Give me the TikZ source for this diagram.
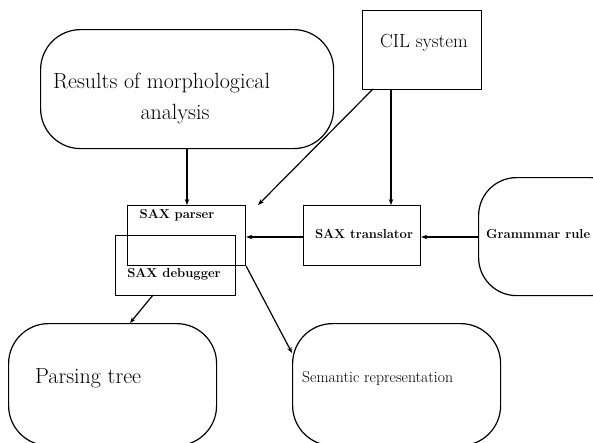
\documentclass[tikz,border=0pt]{standalone}
\usetikzlibrary{arrows.meta}
\begin{document}
\begin{tikzpicture}[x=1pt,y=-1pt,
  ln/.style={line width=1.2pt},
  arr/.style={ln,-{Stealth[length=6pt,width=4.5pt]}},
  rbox/.style={draw,ln,rounded corners=40pt,inner sep=0pt,anchor=north west},
  sbox/.style={draw,ln,inner sep=0pt,anchor=north west},
  txt/.style={inner sep=0pt,font=\fontsize{#1}{#1}\selectfont},
  stxt/.style={inner sep=0pt,font=\fontsize{13}{13}\selectfont\bfseries}]
\useasboundingbox (0,0) rectangle (593,442);
\clip (0,0) rectangle (593,442);
% shapes
\node[rbox,minimum width=293pt,minimum height=119pt] (res) at (40,29) {};
\node[txt=22,anchor=west] (res1) at (53,83) {Results of morphological};
\node[txt=22] (res2) at (175,114) {analysis};
\node[sbox,minimum width=119pt,minimum height=79pt] (cil) at (362,10) {};
\node[txt=19] (cilt) at (424,43) {CIL system};
\node[rbox,minimum width=150pt,minimum height=118pt,rounded corners=38pt] (gr) at (478,177) {};
\node[stxt,anchor=west] (grt) at (486,234) {Grammmar rule};
\node[sbox,minimum width=117pt,minimum height=60pt] (tr) at (303,205) {};
\node[stxt] (trt) at (364,234) {SAX translator};
\node[sbox,minimum width=118pt,minimum height=60pt] (pa) at (127,205) {};
\node[stxt] (pat) at (177,215) {SAX parser};
\node[sbox,minimum width=120pt,minimum height=60pt] (db) at (115,235) {};
\node[stxt] (dbt) at (174,274) {SAX debugger};
\node[rbox,minimum width=208pt,minimum height=122pt] (pt) at (8,323) {};
\node[txt=22,anchor=west] (ptt) at (35,378) {Parsing tree};
\node[rbox,minimum width=208pt,minimum height=122pt] (se) at (292,323) {};
\node[txt=15.7,anchor=west] (set) at (302,379) {Semantic representation};
% connectors
\coordinate (cilA) at (373,89);
\coordinate (cilB) at (391,89);
\coordinate (free) at (258,205);
\coordinate (dbB) at (153,295);
\coordinate (ptT) at (130,323);
\coordinate (seL) at (292,353);
\draw[arr] (res.south -| 187,0) -- (pa.north -| 187,0);
\draw[arr] (cilA) -- (free);
\draw[arr] (cilB) -- (cilB |- tr.north);
\draw[arr] (tr.west |- 0,237) -- (pa.east |- 0,237);
\draw[arr] (gr.west |- 0,237) -- (tr.east |- 0,237);
\draw[arr] (dbB) -- (ptT);
\draw[arr] (pa.south east) -- (seL);
\end{tikzpicture}
\end{document}
